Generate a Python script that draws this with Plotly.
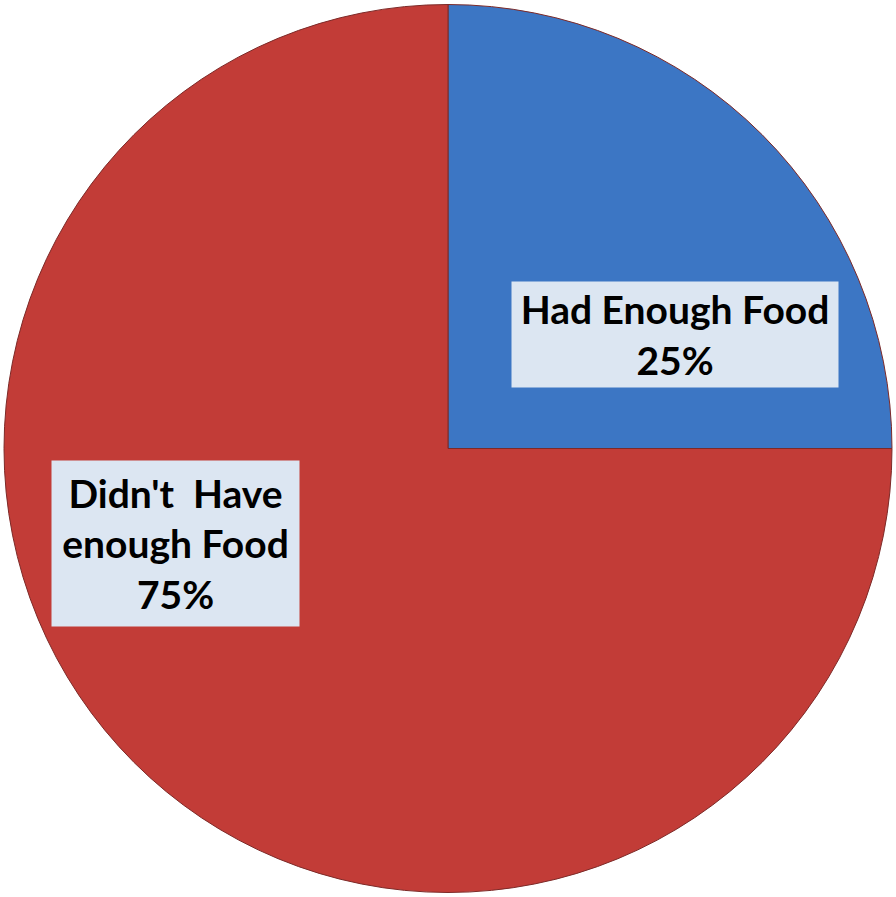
import plotly.graph_objects as go

labels = ["Had Enough Food", "Didn't\u00a0 Have<br>enough Food"]
values = [25, 75]
colors = ["#3C76C4", "#C23C37"]

W, H = 896, 897
fig = go.Figure()
fig.add_trace(go.Pie(
    labels=labels,
    values=values,
    sort=False,
    direction="clockwise",
    rotation=0,
    marker=dict(colors=colors, line=dict(color="#7d2a28", width=1)),
    textinfo="none",
    hoverinfo="label+percent",
    domain=dict(x=[4 / W, 892 / W], y=[1 - 892.5 / H, 1 - 4.5 / H]),
    showlegend=False,
))

total = sum(values)
# label box positions (figure pixels)
boxes = [
    dict(cx=675, cy=334.5, w=326, h=105),
    dict(cx=175.5, cy=543.5, w=247, h=165),
]
for lab, v, b in zip(labels, values, boxes):
    pct = round(100 * v / total)
    fig.add_annotation(
        x=b["cx"] / W, y=1 - b["cy"] / H, xref="paper", yref="paper",
        xanchor="center", yanchor="middle",
        text=f"<b>{lab}<br>{pct}%</b>",
        showarrow=False,
        bgcolor="#DCE6F2",
        width=b["w"], height=b["h"], borderpad=0,
        font=dict(family="Lato, Open Sans, sans-serif", size=39, color="black"),
        align="center",
    )

fig.update_layout(
    width=W, height=H,
    margin=dict(l=0, r=0, t=0, b=0),
    paper_bgcolor="white", plot_bgcolor="white",
)
fig.write_html(
    "out.html",
    config={"displayModeBar": False},
    post_script="document.body.style.margin='0';document.body.style.overflow='hidden';",
)
